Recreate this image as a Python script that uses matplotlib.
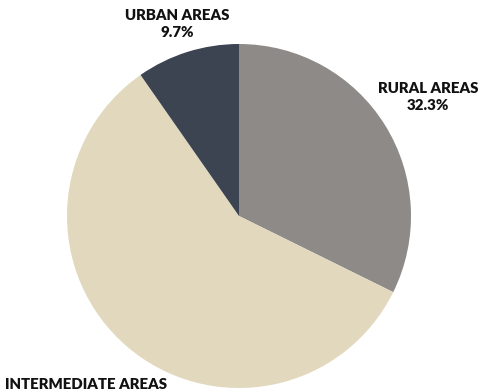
import matplotlib
matplotlib.use("Agg")
import matplotlib.pyplot as plt

categories = ["RURAL AREAS", "INTERMEDIATE AREAS", "URBAN AREAS"]
shares = [32.3, 58.0, 9.7]
colors = ["#8e8a87", "#e2d8be", "#3b4450"]

W, H = 481, 390
fig = plt.figure(figsize=(W / 100, H / 100), dpi=100)
ax = fig.add_axes([0, 0, 1, 1])

ax.pie(shares, colors=colors, startangle=90, counterclock=False,
       center=(239, H - 216), radius=172, frame=True,
       wedgeprops=dict(linewidth=0))
ax.set_xlim(0, W)
ax.set_ylim(0, H)
ax.set_aspect("equal")
ax.axis("off")

label_pos = {
    "RURAL AREAS": (428, H - 97),
    "INTERMEDIATE AREAS": (86, H - 393),
    "URBAN AREAS": (177, H - 24),
}
for name, val in zip(categories, shares):
    x, y = label_pos[name]
    ax.text(x, y, f"{name}\n{val:.1f}%", ha="center", va="center",
            fontsize=10.8, fontweight="heavy", family="Lato",
            linespacing=1.35, color="#111111", clip_on=False)

fig.savefig("out.png", dpi=100)
